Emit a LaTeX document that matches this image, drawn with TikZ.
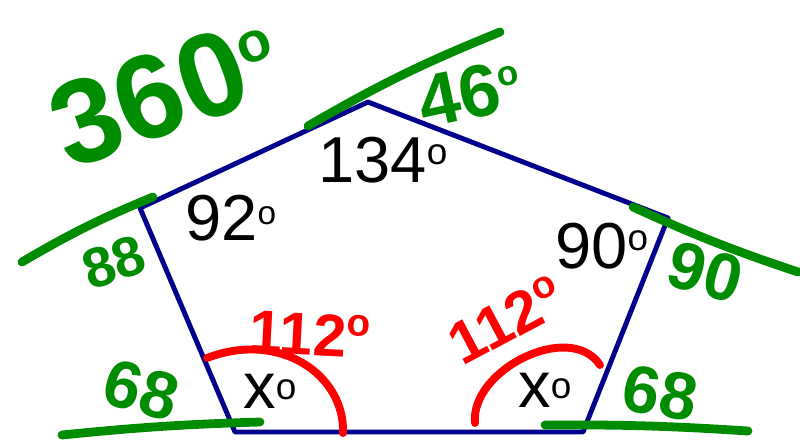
\documentclass[tikz,border=0pt]{standalone}
\usepackage{fontspec}
\setmainfont{Liberation Sans}
\usepackage{xcolor}
\usepackage{tikz}
\usetikzlibrary{calc}
\definecolor{azulpenta}{RGB}{0,0,140}
\definecolor{verdemano}{RGB}{0,140,0}
\definecolor{rojomano}{RGB}{255,0,0}
\newcommand{\gradsup}[2]{\raisebox{#1}{\fontsize{#2}{#2}\selectfont o}}

\begin{document}
\begin{tikzpicture}[x=0.02cm, y=-0.02cm, line cap=round, line join=round,
    lado/.style={azulpenta,line width=2.8pt},
    mano/.style={verdemano,line width=5pt},
    arco/.style={rojomano,line width=4.5pt},
    angulo/.style={black,font=\fontsize{37}{37}\selectfont,inner sep=0pt},
    verdetxt/.style={verdemano,font=\bfseries\fontsize{38}{38}\selectfont,inner sep=0pt},
    rojotxt/.style={rojomano,font=\bfseries\fontsize{34}{34}\selectfont,inner sep=0pt}]
    \useasboundingbox (0,0) rectangle (800,440);
    % vertices del pentagono
    \coordinate (T) at (368,102); \coordinate (R) at (668,218);
    \coordinate (BR) at (583,432); \coordinate (BL) at (235,432);
    \coordinate (L) at (140,208);
    \draw[lado] (T) -- (R) -- (BR) -- (BL) -- (L) -- cycle;
    % prolongaciones (verde)
    \coordinate (ta) at (308,126); \coordinate (tb) at (500,32);
    \draw[mano] (ta) to[bend left=4] (tb);
    \coordinate (la) at (22,262); \coordinate (lb) at (153,197);
    \draw[mano] (la) to[bend left=4] (lb);
    \coordinate (ra) at (633,207); \coordinate (rb) at (798,272);
    \draw[mano] (ra) to[bend right=3] (rb);
    \coordinate (bla) at (62,435); \coordinate (blb) at (260,422);
    \draw[mano] (bla) to[bend left=2] (blb);
    \coordinate (bra) at (545,425); \coordinate (brb) at (748,431);
    \draw[mano] (bra) to[bend left=2] (brb);
    % arcos (rojo)
    \coordinate (a1) at (207,358); \coordinate (a2) at (343,433);
    \draw[arco] (a1) .. controls (280,330) and (345,375) .. (a2);
    \coordinate (a3) at (475,423); \coordinate (a4) at (600,365);
    \draw[arco] (a3) .. controls (470,370) and (570,320) .. (a4);
    % angulos interiores
    \node[angulo,anchor=base west] (n134) at (318,182){134\gradsup{10pt}{21}};
    \node[angulo,anchor=base west] (n92) at (185,240){92\gradsup{9pt}{19}};
    \node[angulo,anchor=base west] (n90) at (555,268){90\gradsup{10pt}{21}};
    \node[angulo,anchor=base west] (nxl) at (243,408){x\gradsup{5pt}{21}};
    \node[angulo,anchor=base west] (nxr) at (518,407){x\gradsup{5pt}{21}};
    % exteriores (verde)
    \node[verdetxt,font=\bfseries\fontsize{68}{68}\selectfont,rotate=20] (n360) at (165,92){360\gradsup{22pt}{32}};
    \node[verdetxt,font=\bfseries\fontsize{42}{42}\selectfont,rotate=12] (n46) at (470,93){46\gradsup{14pt}{20}};
    \node[verdetxt,font=\bfseries\fontsize{32}{32}\selectfont,rotate=18] (n88) at (114,262){88};
    \node[verdetxt,rotate=-15] (n90v) at (705,272){90};
    \node[verdetxt,rotate=-15] (n68l) at (141,390){68};
    \node[verdetxt,rotate=-10] (n68r) at (660,393){68};
    % 112 (rojo)
    \node[rojotxt,rotate=-3] (n112l) at (310,334){112\gradsup{12pt}{22}};
    \node[rojotxt,rotate=28] (n112r) at (506,320){112\gradsup{12pt}{22}};
\end{tikzpicture}
\end{document}
